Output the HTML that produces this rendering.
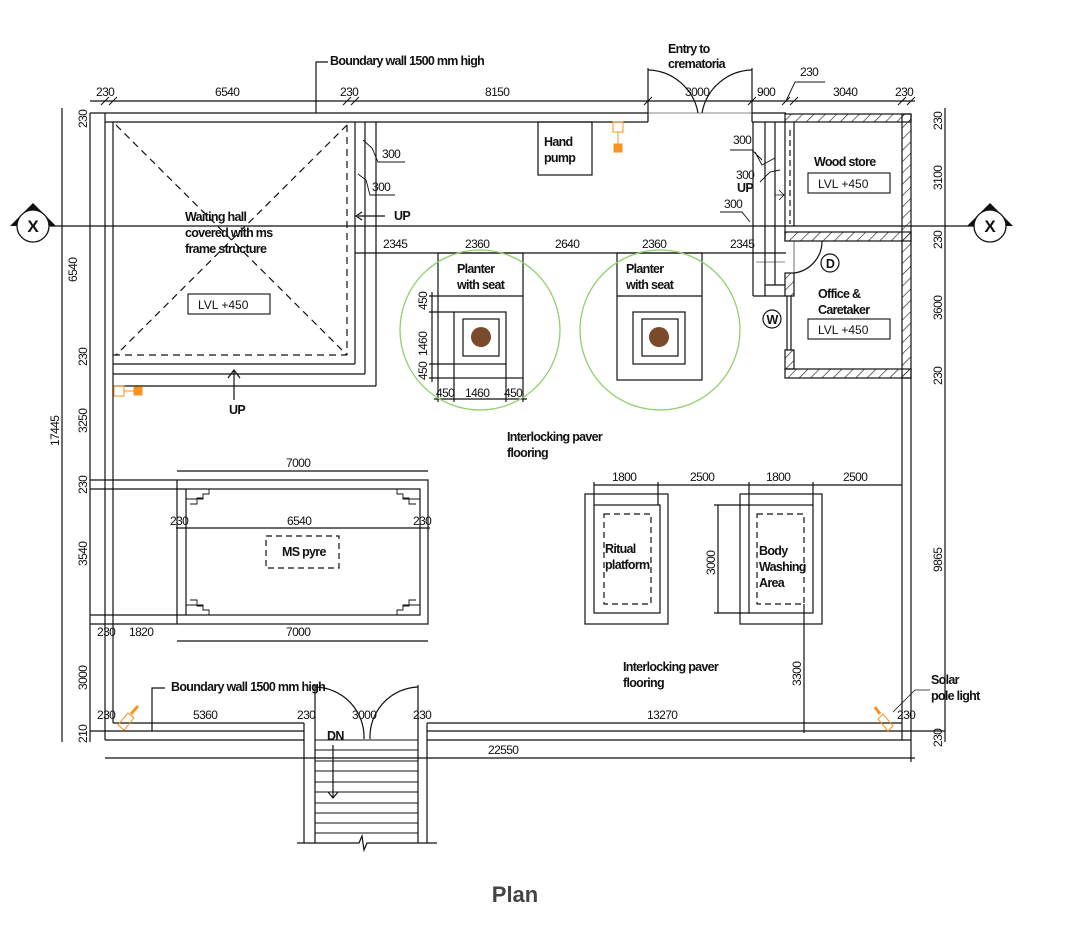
<!DOCTYPE html>
<html><head><meta charset="utf-8"><style>
html,body{margin:0;padding:0;background:#fff;}
svg{display:block}
text{font-family:"Liberation Sans",sans-serif;fill:#111;}
.d{font-size:12px;letter-spacing:-0.6px;}
.l{font-size:12.5px;font-weight:bold;letter-spacing:-0.7px;}
.t{font-size:12px;}
</style></head><body>
<svg width="1080" height="942" viewBox="0 0 1080 942" xmlns="http://www.w3.org/2000/svg">
<defs>
<pattern id="h" width="8" height="8" patternUnits="userSpaceOnUse" patternTransform="rotate(45)">
<line x1="0" y1="0" x2="0" y2="8" stroke="#222" stroke-width="1.3"/></pattern>
</defs>
<g stroke="#111" stroke-width="1.2" fill="none">
<line x1="50" y1="226" x2="974" y2="226"/>
<line x1="90" y1="101" x2="915" y2="101"/>
<g stroke-width="1">
<path d="M101,105 L109,97 M109,105 L117,97 M343,105 L351,97 M351,105 L359,97 M644,105 L652,97 M748,105 L756,97 M782,105 L790,97 M790,105 L798,97 M898,105 L906,97 M907,105 L915,97"/>
</g>
<line x1="90" y1="113" x2="648" y2="113"/>
<line x1="105" y1="122" x2="648" y2="122"/>
<line x1="648" y1="68" x2="648" y2="122"/><line x1="752" y1="68" x2="752" y2="122"/>
<line x1="648" y1="113" x2="752" y2="113" stroke-width="0.6"/>
<path d="M648,70 A52,52 0 0 1 698,113 M752,70 A52,52 0 0 0 702,113"/>
<line x1="752" y1="113" x2="786" y2="113"/><line x1="752" y1="122" x2="786" y2="122"/>
<line x1="90" y1="113" x2="90" y2="742"/>
<line x1="105" y1="113" x2="105" y2="740"/>
<line x1="113" y1="122" x2="113" y2="723"/>
<line x1="62" y1="108" x2="62" y2="742"/>
<line x1="355" y1="122" x2="355" y2="364"/>
<line x1="113" y1="364" x2="355" y2="364"/>
<line x1="365" y1="122" x2="365" y2="374"/><line x1="113" y1="374" x2="365" y2="374"/>
<line x1="376" y1="122" x2="376" y2="386"/><line x1="113" y1="386" x2="376" y2="386"/>
<g stroke-dasharray="7,5">
<line x1="347" y1="125" x2="347" y2="355"/>
<line x1="113" y1="355" x2="347" y2="355"/>
<line x1="116" y1="125" x2="347" y2="355"/>
<line x1="347" y1="125" x2="116" y2="355"/>
</g>
<path d="M228,378 L234,370 L240,378 M234,370 L234,400"/>
<path d="M362,212 L356,216 L362,220"/>
<line x1="358" y1="216" x2="385" y2="216"/>
<path d="M363,140 L372,148 L378,162 H405 M358,174 L366,180 L370,195 H395" stroke-width="0.9"/>
<path d="M755,152 L762,165 L775,158 M730,150 H752 L762,160 M760,182 L770,172 L780,170 M720,212 H742 L750,222" stroke-width="0.9"/>
<path d="M786,101 L795,82 H825" stroke-width="0.9"/>
<rect x="785" y="114" width="126" height="8" fill="url(#h)"/>
<rect x="785" y="232" width="126" height="9" fill="url(#h)"/>
<rect x="785" y="369" width="126" height="9" fill="url(#h)"/>
<rect x="902" y="114" width="9" height="264" fill="url(#h)"/>
<rect x="785" y="273" width="9" height="23" fill="url(#h)"/>
<rect x="785" y="350" width="9" height="19" fill="url(#h)"/>
<line x1="794" y1="122" x2="794" y2="226"/>
<line x1="785" y1="122" x2="785" y2="241"/>
<line x1="790" y1="130" x2="790" y2="224" stroke-dasharray="6,4"/>
<line x1="787" y1="296" x2="787" y2="350"/><line x1="791" y1="296" x2="791" y2="350"/>
<path d="M822,241 A32,32 0 0 1 794,273"/>
<line x1="794" y1="241" x2="794" y2="273" stroke-width="0.6"/>
<line x1="753" y1="122" x2="753" y2="296"/><line x1="765" y1="122" x2="765" y2="296"/><line x1="775" y1="122" x2="775" y2="285"/>
<line x1="753" y1="296" x2="785" y2="296"/><line x1="765" y1="285" x2="785" y2="285"/>
<line x1="756" y1="262" x2="785" y2="262" stroke-width="0.6"/>
<path d="M775,195 H785 M779,190 L784,195 L779,200" stroke-width="0.8"/>
<line x1="902" y1="378" x2="902" y2="740"/>
<line x1="911" y1="378" x2="911" y2="762"/>
<line x1="945" y1="108" x2="945" y2="742"/>
<line x1="113" y1="723" x2="304" y2="723"/><line x1="427" y1="723" x2="902" y2="723"/>
<line x1="90" y1="731" x2="304" y2="731"/><line x1="427" y1="731" x2="945" y2="731"/>
<line x1="105" y1="740" x2="304" y2="740"/><line x1="427" y1="740" x2="911" y2="740"/>
<line x1="105" y1="758" x2="915" y2="758"/>
<line x1="304" y1="723" x2="304" y2="843"/><line x1="427" y1="723" x2="427" y2="843"/>
<line x1="315" y1="685" x2="315" y2="843"/><line x1="418" y1="685" x2="418" y2="843"/>
<path d="M315,687 A50,50 0 0 1 364,739 M418,687 A50,50 0 0 0 370,739"/>
<g stroke-width="1">
<line x1="315" y1="740" x2="418" y2="740"/><line x1="315" y1="750" x2="418" y2="750"/><line x1="315" y1="761" x2="418" y2="761"/><line x1="315" y1="771" x2="418" y2="771"/><line x1="315" y1="782" x2="418" y2="782"/><line x1="315" y1="792" x2="418" y2="792"/><line x1="315" y1="803" x2="418" y2="803"/><line x1="315" y1="813" x2="418" y2="813"/><line x1="315" y1="823" x2="418" y2="823"/><line x1="315" y1="833" x2="418" y2="833"/>
</g>
<path d="M297,843 H359 L362,836 L364,850 L367,843 H437"/>
<path d="M333,745 V798 M328,792 L333,798 L338,792"/>
<path d="M316,113 V62 H328"/>
<path d="M152,731 V688 H165"/>
<rect x="538" y="122" width="54" height="53"/>
<rect x="177" y="480" width="251" height="144"/>
<rect x="186" y="489" width="234" height="126"/>
<line x1="177" y1="471" x2="428" y2="471"/>
<line x1="177" y1="641" x2="428" y2="641"/>
<line x1="176" y1="528" x2="430" y2="528"/>
<line x1="90" y1="615" x2="186" y2="615"/><line x1="90" y1="624" x2="177" y2="624"/>
<line x1="90" y1="480" x2="177" y2="480"/><line x1="90" y1="489" x2="186" y2="489"/>
<path d="M186,499 H203 V494 H209 V489 M190,504 H197 V498 H203" stroke-width="0.9"/>
<path d="M420,499 H403 V494 H397 V489 M416,504 H409 V498 H403" stroke-width="0.9"/>
<path d="M186,605 H203 V610 H209 V615 M190,600 H197 V606 H203" stroke-width="0.9"/>
<path d="M420,605 H403 V610 H397 V615 M416,600 H409 V606 H403" stroke-width="0.9"/>
<rect x="266" y="536" width="73" height="32" stroke-dasharray="6,4"/>
<rect x="585" y="494" width="83" height="130"/>
<rect x="594" y="505" width="66" height="108"/>
<rect x="604" y="514" width="47" height="90" stroke-dasharray="6,4"/>
<rect x="740" y="494" width="82" height="130"/>
<rect x="749" y="505" width="64" height="108"/>
<rect x="757" y="514" width="47" height="90" stroke-dasharray="6,4"/>
<line x1="594" y1="485" x2="902" y2="485"/>
<line x1="594" y1="482" x2="594" y2="505"/><line x1="658" y1="482" x2="658" y2="505"/><line x1="749" y1="482" x2="749" y2="505"/><line x1="813" y1="482" x2="813" y2="505"/>
<line x1="718" y1="505" x2="718" y2="613"/>
<line x1="714" y1="505" x2="749" y2="505"/><line x1="714" y1="613" x2="749" y2="613"/>
<line x1="804" y1="604" x2="804" y2="733"/>
<g>
<rect x="438" y="253" width="85" height="125"/><line x1="438" y1="296" x2="523" y2="296"/>
<rect x="454" y="312" width="52" height="52"/><rect x="463" y="319" width="36" height="37"/>
<line x1="429" y1="296" x2="438" y2="296"/><line x1="429" y1="312" x2="454" y2="312"/><line x1="429" y1="364" x2="454" y2="364"/><line x1="429" y1="378" x2="438" y2="378"/>
<line x1="432" y1="292" x2="432" y2="382"/>
<line x1="438" y1="378" x2="438" y2="402"/><line x1="454" y1="364" x2="454" y2="402"/><line x1="506" y1="364" x2="506" y2="402"/><line x1="523" y1="378" x2="523" y2="402"/>
<line x1="434" y1="399" x2="527" y2="399"/>
</g>
<g transform="translate(179,0)">
<rect x="438" y="253" width="85" height="127"/><line x1="438" y1="296" x2="523" y2="296"/>
<rect x="454" y="312" width="52" height="52"/><rect x="463" y="319" width="36" height="37"/>
</g>
<line x1="355" y1="253" x2="786" y2="253"/>
</g>
<circle cx="480" cy="330" r="80" fill="none" stroke="#8fcf6b" stroke-width="1.3"/>
<circle cx="660" cy="330" r="80" fill="none" stroke="#8fcf6b" stroke-width="1.3"/>
<circle cx="481" cy="337" r="10" fill="#7a4a2a"/>
<circle cx="659" cy="337" r="10" fill="#7a4a2a"/>
<path d="M10,226 L33,203 L56,226Z" fill="#111"/>
<path d="M967,226 L990,203 L1013,226Z" fill="#111"/>
<circle cx="33" cy="226" r="16" fill="#fff" stroke="#111" stroke-width="1.3"/>
<circle cx="990" cy="226" r="16" fill="#fff" stroke="#111" stroke-width="1.3"/>
<text x="33" y="232" font-size="17" text-anchor="middle" style="font-weight:bold">X</text>
<text x="990" y="232" font-size="17" text-anchor="middle" style="font-weight:bold">X</text>
<g fill="#f7941d" stroke="#f7941d">
<rect x="114" y="386" width="10" height="10" fill="none"/><line x1="124" y1="391" x2="134" y2="391"/><rect x="134" y="387" width="8" height="8"/>
<rect x="613" y="122" width="10" height="10" fill="none"/><line x1="618" y1="132" x2="618" y2="144"/><rect x="614" y="144" width="8" height="8"/>
<path d="M118,725 L128,713 L134,718 L124,730Z" fill="none"/><line x1="131" y1="714" x2="138" y2="706" stroke-width="3"/>
<path d="M883,714 L893,726 L888,731 L878,719Z" fill="none"/><line x1="880" y1="714" x2="875" y2="707" stroke-width="3"/>
</g>
<path d="M893,712 L915,690 H930" fill="none" stroke="#111" stroke-width="0.8"/>
<circle cx="830" cy="263" r="9" fill="none" stroke="#111" stroke-width="1.2"/><text x="830" y="268" class="l" text-anchor="middle">D</text>
<circle cx="772" cy="319" r="9" fill="none" stroke="#111" stroke-width="1.2"/><text x="772" y="324" class="l" text-anchor="middle">W</text>
<g fill="none" stroke="#111" stroke-width="1.1">
<rect x="188" y="294" width="82" height="20"/>
<rect x="808" y="173" width="82" height="20"/>
<rect x="808" y="319" width="82" height="20"/>
</g>
<text x="198" y="309" class="t">LVL  +450</text>
<text x="818" y="188" class="t">LVL  +450</text>
<text x="818" y="334" class="t">LVL  +450</text>
<text x="330" y="65" class="l">Boundary wall 1500 mm high</text>
<text x="668" y="53" class="l">Entry to</text>
<text x="668" y="68" class="l">crematoria</text>
<text x="544" y="146" class="l">Hand</text><text x="544" y="162" class="l">pump</text>
<text x="185" y="221" class="l">Waiting hall</text><text x="185" y="237" class="l">covered with ms</text><text x="185" y="253" class="l">frame structure</text>
<text x="457" y="273" class="l">Planter</text><text x="457" y="289" class="l">with seat</text>
<text x="626" y="273" class="l">Planter</text><text x="626" y="289" class="l">with seat</text>
<text x="814" y="166" class="l">Wood store</text>
<text x="818" y="298" class="l">Office &amp;</text><text x="818" y="314" class="l">Caretaker</text>
<text x="507" y="441" class="l">Interlocking paver</text><text x="507" y="457" class="l">flooring</text>
<text x="623" y="671" class="l">Interlocking paver</text><text x="623" y="687" class="l">flooring</text>
<text x="282" y="556" class="l">MS pyre</text>
<text x="605" y="553" class="l">Ritual</text><text x="605" y="569" class="l">platform</text>
<text x="759" y="555" class="l">Body</text><text x="759" y="571" class="l">Washing</text><text x="759" y="587" class="l">Area</text>
<text x="171" y="691" class="l">Boundary wall 1500 mm high</text>
<text x="931" y="684" class="l">Solar</text><text x="931" y="700" class="l">pole light</text>
<text x="229" y="414" class="l">UP</text>
<text x="394" y="220" class="l">UP</text>
<text x="737" y="192" class="l">UP</text>
<text x="327" y="740" class="l">DN</text>
<g class="d">
<text x="96" y="96">230</text><text x="215" y="96">6540</text><text x="340" y="96">230</text><text x="485" y="96">8150</text><text x="685" y="96">3000</text><text x="757" y="96">900</text><text x="833" y="96">3040</text><text x="895" y="96">230</text>
<text x="800" y="76">230</text>
<text x="382" y="158">300</text><text x="372" y="191">300</text>
<text x="733" y="144">300</text><text x="736" y="179">300</text><text x="724" y="208">300</text>
<text x="383" y="248">2345</text><text x="465" y="248">2360</text><text x="555" y="248">2640</text><text x="642" y="248">2360</text><text x="730" y="248">2345</text>
<text x="436" y="397">450</text><text x="465" y="397">1460</text><text x="504" y="397">450</text>
<text x="286" y="467">7000</text><text x="287" y="525">6540</text><text x="170" y="525">230</text><text x="413" y="525">230</text>
<text x="286" y="636">7000</text><text x="97" y="636">230</text><text x="129" y="636">1820</text>
<text x="612" y="481">1800</text><text x="690" y="481">2500</text><text x="766" y="481">1800</text><text x="843" y="481">2500</text>
<text x="97" y="719">230</text><text x="193" y="719">5360</text><text x="297" y="719">230</text><text x="352" y="719">3000</text><text x="413" y="719">230</text><text x="647" y="719">13270</text><text x="897" y="719">230</text>
<text x="488" y="754">22550</text>
</g>
<g class="d">
<text transform="translate(87,128) rotate(-90)">230</text>
<text transform="translate(77,282) rotate(-90)">6540</text>
<text transform="translate(87,366) rotate(-90)">230</text>
<text transform="translate(87,433) rotate(-90)">3250</text>
<text transform="translate(87,494) rotate(-90)">230</text>
<text transform="translate(87,566) rotate(-90)">3540</text>
<text transform="translate(87,690) rotate(-90)">3000</text>
<text transform="translate(87,743) rotate(-90)">210</text>
<text transform="translate(59,446) rotate(-90)">17445</text>
<text transform="translate(427,310) rotate(-90)">450</text>
<text transform="translate(427,356) rotate(-90)">1460</text>
<text transform="translate(427,380) rotate(-90)">450</text>
<text transform="translate(715,575) rotate(-90)">3000</text>
<text transform="translate(801,686) rotate(-90)">3300</text>
<text transform="translate(942,130) rotate(-90)">230</text>
<text transform="translate(942,190) rotate(-90)">3100</text>
<text transform="translate(942,249) rotate(-90)">230</text>
<text transform="translate(942,320) rotate(-90)">3600</text>
<text transform="translate(942,385) rotate(-90)">230</text>
<text transform="translate(942,572) rotate(-90)">9865</text>
<text transform="translate(942,747) rotate(-90)">230</text>
</g>
<text x="515" y="902" text-anchor="middle" style="font-size:22px;font-weight:bold;fill:#444">Plan</text>
</svg>
</body></html>
